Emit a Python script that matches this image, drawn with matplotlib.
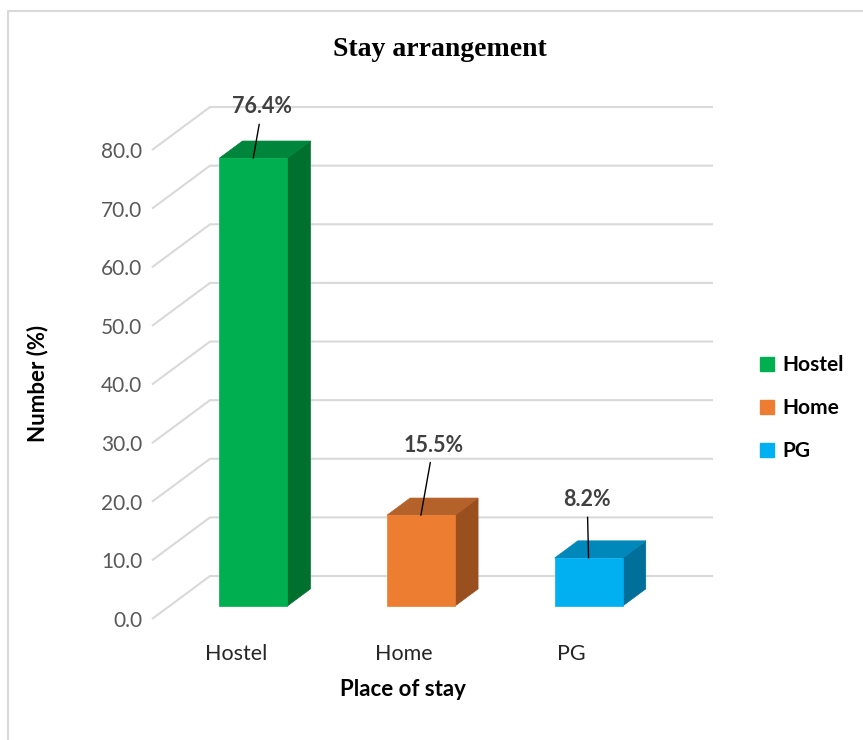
import matplotlib
matplotlib.use("Agg")
import matplotlib.pyplot as plt
from matplotlib.patches import Polygon, Patch
from matplotlib.lines import Line2D

# Data
categories = ["Hostel", "Home", "PG"]
values = [76.4, 15.5, 8.2]
value_labels = ["76.4%", "15.5%", "8.2%"]
yticks = [0, 10, 20, 30, 40, 50, 60, 70, 80]
ytick_labels = ["0.0", "10.0", "20.0", "30.0", "40.0", "50.0", "60.0", "70.0", "80.0"]

# Styling
front_colors = ["#00B050", "#ED7D31", "#00B0F0"]
side_colors = ["#00702F", "#9A4F1F", "#006F9A"]
top_colors = ["#00853C", "#B5612A", "#0088BA"]
label_offsets = [(6.5, 37.0), (9.0, 50.5), (-1.0, 42.0)]  # points, text relative to bar top
FONT = ["Lato", "DejaVu Sans"]
GRID = "#D9D9D9"

W_PX, H_PX, DPI = 863, 740, 100
fig = plt.figure(figsize=(W_PX / DPI, H_PX / DPI), dpi=DPI)

# Front plane of the floor/wall box
ax = fig.add_axes([152 / W_PX, 1 - 619 / H_PX, 503 / W_PX, 469 / H_PX])
ax.set_xlim(-0.5, 2.5)
ax.set_ylim(0, 80)
for s in ax.spines.values():
    s.set_visible(False)

# Depth of the 3D box in data units
DX, DY = 0.346, 7.33
BAR_W = 0.405
F0, FD = 0.3, 0.4  # bar front position and bar depth as fractions of box depth

# Gridlines: diagonal on the side wall, horizontal on the back wall
for v in yticks:
    ax.plot([-0.5, -0.5 + DX, 2.5 + DX], [v, v + DY, v + DY],
            color=GRID, lw=1.5, clip_on=False, zorder=1, solid_capstyle="butt")

# 3D-looking bars
for i, (v, fc, sc, tc) in enumerate(zip(values, front_colors, side_colors, top_colors)):
    cx = i + F0 * DX
    y0 = F0 * DY
    xl, xr = cx - BAR_W / 2, cx + BAR_W / 2
    dx, dy = FD * DX, FD * DY
    front = Polygon([(xl, y0), (xr, y0), (xr, y0 + v), (xl, y0 + v)],
                    closed=True, facecolor=fc, edgecolor=fc, lw=0.5, zorder=3, clip_on=False)
    side = Polygon([(xr, y0), (xr + dx, y0 + dy), (xr + dx, y0 + v + dy), (xr, y0 + v)],
                   closed=True, facecolor=sc, edgecolor=sc, lw=0.5, zorder=2, clip_on=False)
    top = Polygon([(xl, y0 + v), (xr, y0 + v), (xr + dx, y0 + v + dy), (xl + dx, y0 + v + dy)],
                  closed=True, facecolor=tc, edgecolor=tc, lw=0.5, zorder=2, clip_on=False)
    for p in (side, top, front):
        ax.add_patch(p)
    ax.annotate(value_labels[i], xy=(cx, y0 + v), xytext=label_offsets[i],
                textcoords="offset points", ha="center", va="center",
                fontsize=15.5, fontweight="bold", color="#404040", family=FONT,
                arrowprops=dict(arrowstyle="-", color="black", lw=1.0, shrinkA=3, shrinkB=0),
                zorder=5, annotation_clip=False)

# Axes ticks and labels
ax.set_yticks(yticks)
ax.set_yticklabels(ytick_labels, family=FONT, fontsize=15, color="#595959")
ax.set_xticks(range(len(categories)))
ax.set_xticklabels(categories, family=FONT, fontsize=15.5, color="#262626")
ax.tick_params(axis="y", length=0, pad=7)
ax.tick_params(axis="x", length=0, pad=18)

ax.set_ylabel("Number (%)", family=FONT, fontsize=16, fontweight="bold", color="black")
ax.yaxis.set_label_coords(-0.227, 0.503)
ax.yaxis.label.set_va("center")
ax.set_xlabel("Place of stay", family=FONT, fontsize=16, fontweight="bold", color="black")
ax.xaxis.set_label_coords(0.499, -0.151)
ax.xaxis.label.set_va("center")

# Title
fig.text(440 / W_PX, 1 - 49 / H_PX, "Stay arrangement", ha="center", va="center",
         family="Liberation Serif", fontweight="bold", fontsize=20, color="black")

# Legend
handles = [Patch(facecolor=c, edgecolor=c) for c in front_colors]
leg = fig.legend(handles, categories, loc="center left",
                 bbox_to_anchor=(750 / W_PX, 1 - 408 / H_PX), frameon=False,
                 prop=dict(family=FONT, size=15, weight="bold"),
                 handlelength=0.65, handleheight=0.65, handletextpad=0.4,
                 labelspacing=1.1, borderpad=0)

# Chart border
fig.add_artist(Line2D([8 / W_PX, 8 / W_PX, 1], [0, 1 - 11 / H_PX, 1 - 11 / H_PX],
                      transform=fig.transFigure, color=GRID, lw=1.5))

fig.savefig("out.png", dpi=DPI)
